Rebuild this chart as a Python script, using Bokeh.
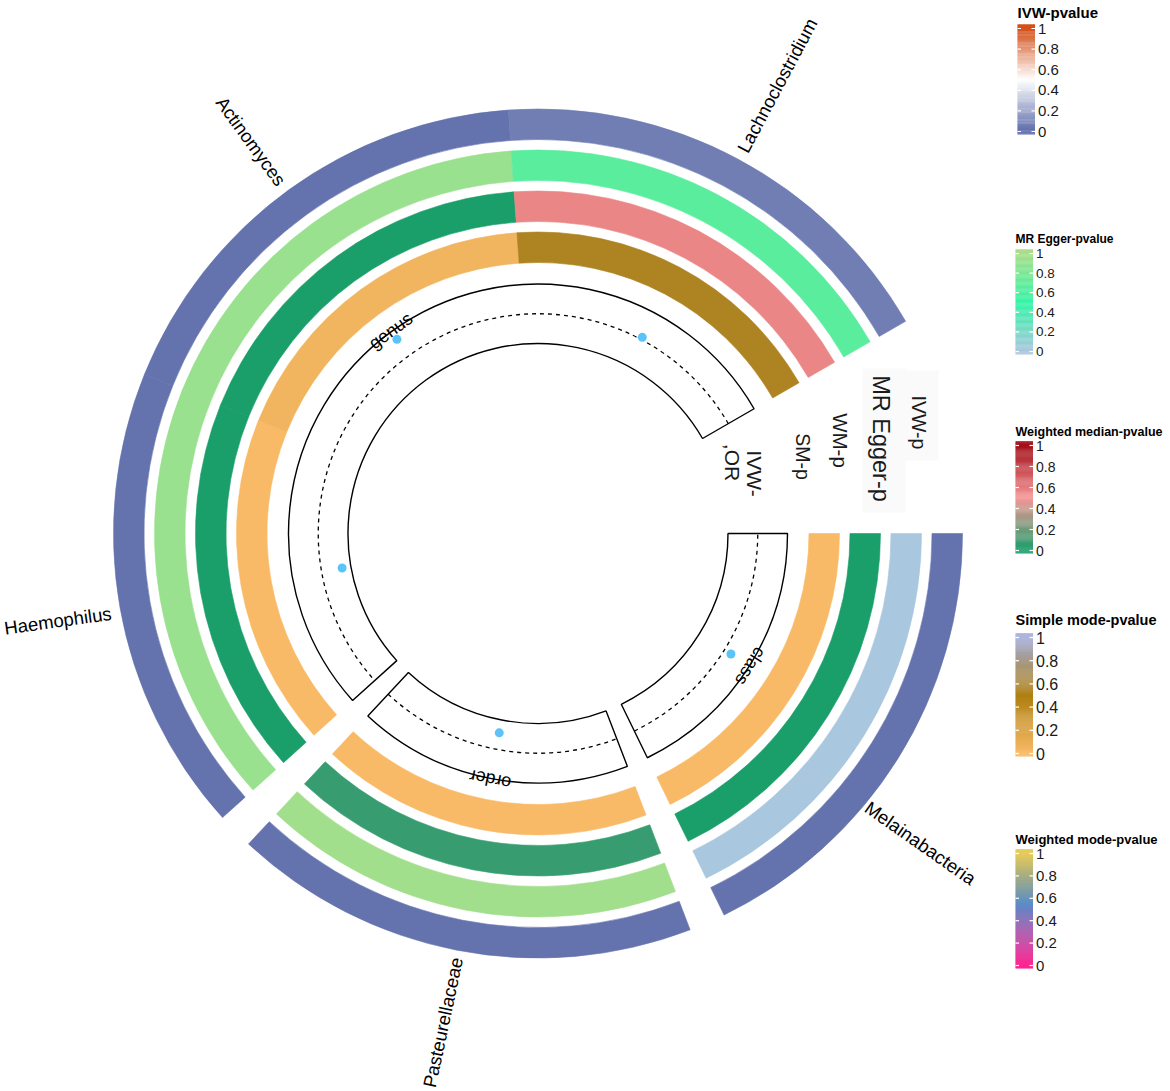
import numpy as np
from bokeh.plotting import figure
from bokeh.models import Range1d, ColumnDataSource, LinearColorMapper
from bokeh.transform import transform
from bokeh.core.properties import value
from bokeh.embed import file_html
from bokeh.resources import INLINE

# ---------------- data ----------------
taxa = ["Melainabacteria", "Pasteurellaceae", "Haemophilus", "Actinomyces", "Lachnoclostridium"]
levels = ["class", "order", "genus", "genus", "genus"]
ivw_p = [0.02, 0.02, 0.02, 0.02, 0.06]
egger_p = [0.01, 0.97, 0.93, 0.93, 0.66]
wm_p = [0.0, 0.07, 0.0, 0.0, 0.56]
sm_p = [0.0, 0.0, 0.0, 0.04, 0.54]
ivw_or = [1.13, 0.72, 0.65, 1.34, 1.04]

legend_titles = ["IVW-pvalue", "MR Egger-pvalue", "Weighted median-pvalue",
                 "Simple mode-pvalue", "Weighted mode-pvalue"]
tick_values = [0, 0.2, 0.4, 0.6, 0.8, 1]
tick_labels = ["0", "0.2", "0.4", "0.6", "0.8", "1"]

# colour scales (stops)
ivw_stops = [(0, "#5E6DAA"), (0.5, "#FFFFFF"), (1, "#D4501A")]
egger_stops = [(0, "#ABC6DF"), (0.5, "#34F4A6"), (1, "#A8DE8A")]
wm_stops = [(0, "#1A9E6A"), (0.5, "#F59696"), (1, "#A3101A")]
sm_stops = [(0, "#F8BA66"), (0.5, "#AF7F10"), (1, "#A3ACD9")]
wmode_stops = [(0, "#FF0A84"), (0.55, "#5B8DC8"), (1, "#E2C74C")]


def hex2rgb(h):
    h = h.lstrip("#")
    return np.array([int(h[i:i + 2], 16) for i in (0, 2, 4)], dtype=float)


def make_palette(stops, n=256):
    xs = np.array([s[0] for s in stops])
    cols = np.array([hex2rgb(s[1]) for s in stops])
    out = []
    for t in np.linspace(0, 1, n):
        rgb = [np.interp(t, xs, cols[:, k]) for k in range(3)]
        out.append("#%02x%02x%02x" % tuple(int(round(c)) for c in rgb))
    return out


mappers = [LinearColorMapper(palette=make_palette(s), low=0, high=1)
           for s in (ivw_stops, egger_stops, wm_stops, sm_stops, wmode_stops)]

# ---------------- layout ----------------
W, H = 1166, 1088


def Y(py):
    return H - py


CX, CY = 537.5, Y(533)
SECTOR_W = 64.0
SMALL_GAP = 5.0
START = 0.0

sec_hi, sec_lo = [], []
pos = START
prev = None
for lev in levels:
    if prev is not None and lev != prev:
        pos -= SMALL_GAP
    sec_hi.append(pos)
    sec_lo.append(pos - SECTOR_W)
    pos -= SECTOR_W
    prev = lev
sec_mid = [(a + b) / 2 for a, b in zip(sec_hi, sec_lo)]

p = figure(width=W, height=H, x_range=Range1d(0, W), y_range=Range1d(0, H),
           output_backend="svg", toolbar_location=None, min_border=0,
           x_axis_location=None, y_axis_location=None)
p.grid.visible = False
p.outline_line_color = None
p.background_fill_color = "white"
p.border_fill_color = "white"

FONT = "Liberation Sans"

# heat rings (outer to inner)
ring_values = [ivw_p, egger_p, wm_p, sm_p]
ring_inner = [394, 353, 312, 271]
RING_W = 30.5
for vals, mapper, rin in zip(ring_values, mappers[:4], ring_inner):
    src = ColumnDataSource(dict(
        x=[CX] * len(taxa), y=[CY] * len(taxa),
        s=np.radians(sec_lo), e=np.radians(sec_hi), v=vals))
    p.annular_wedge(x="x", y="y", inner_radius=rin, outer_radius=rin + RING_W,
                    start_angle="s", end_angle="e", source=src,
                    fill_color=transform("v", mapper),
                    line_color=transform("v", mapper), line_width=0.6)

# gap label backgrounds (faint)
p.quad(left=[903, 862], right=[938, 905], top=[Y(370), Y(368)], bottom=[Y(460), Y(512)],
       fill_color="#FAFAFA", line_color=None)

# track labels in the gap
gap_texts = ["IVW-p", "MR Egger-p", "WM-p", "SM-p", "IVW-", ",OR"]
gap_x = [918, 880, 840, 802, 754, 732]
gap_y = [422, 438, 440, 456, 473, 462]
gap_size = [19.5, 23.5, 20.5, 19.5, 21, 21]
for t, gx, gy, gs in zip(gap_texts, gap_x, gap_y, gap_size):
    p.text(x=[gx], y=[Y(gy)], text=[t], angle=-np.pi / 2, text_align="center",
           text_baseline="middle", text_font=value(FONT), text_font_size=f"{gs}px",
           text_color="#1a1a1a")

# IVW-OR track
OR_IN, OR_OUT = 190.0, 249.5
OR_LIM = (0.5, 1.5)
uniq_levels = []
for lev in levels:
    if lev not in uniq_levels:
        uniq_levels.append(lev)
lev_lo = [min(sec_lo[i] for i in range(len(levels)) if levels[i] == L) for L in uniq_levels]
lev_hi = [max(sec_hi[i] for i in range(len(levels)) if levels[i] == L) for L in uniq_levels]
lev_mid = [(a + b) / 2 for a, b in zip(lev_lo, lev_hi)]

p.annular_wedge(x=[CX] * len(uniq_levels), y=[CY] * len(uniq_levels),
                inner_radius=OR_IN, outer_radius=OR_OUT,
                start_angle=np.radians(lev_lo), end_angle=np.radians(lev_hi),
                fill_color=None, line_color="black", line_width=1.4)


def or_r(v):
    return OR_IN + (v - OR_LIM[0]) / (OR_LIM[1] - OR_LIM[0]) * (OR_OUT - OR_IN)


p.arc(x=[CX] * len(uniq_levels), y=[CY] * len(uniq_levels), radius=or_r(1.0),
      start_angle=np.radians(lev_lo), end_angle=np.radians(lev_hi),
      line_color="black", line_width=1.3, line_dash="4 4")

pr = np.array([or_r(v) for v in ivw_or])
th = np.radians(sec_mid)
p.scatter(x=CX + pr * np.cos(th), y=CY + pr * np.sin(th), size=9,
          fill_color="#5BC3F7", line_color=None)

# level labels
lth = np.radians(lev_mid)
LR = 250.5
p.text(x=CX + LR * np.cos(lth), y=CY + LR * np.sin(lth), text=uniq_levels,
       angle=lth - np.pi / 2, text_align="center", text_baseline="alphabetic",
       text_font=value(FONT), text_font_size="18px", text_color="black")

# taxon labels
lab_theta = np.radians([321.0, 259.0, 190.3, 126.2, 61.9])
lab_r = np.array([492.0, 498.0, 488.0, 486.0, 508.0])
lab_rot = np.radians([-35.0, 78.0, 8.0, -54.0, 62.0])
p.text(x=CX + lab_r * np.cos(lab_theta), y=CY + lab_r * np.sin(lab_theta), text=taxa,
       angle=lab_rot, text_align="center", text_baseline="middle",
       text_font=value(FONT), text_font_size="18.5px", text_color="black")

# ---------------- legends ----------------
leg_x = [1017, 1015, 1015, 1015, 1015]
leg_title_y = [11.5, 238.5, 431, 619, 838.5]   # title centre lines
leg_title_size = [15, 12, 12.5, 14.5, 13]
leg_t1 = [28, 253, 445, 637, 853]
leg_t0 = [131, 351, 550, 753, 965]
leg_lab_size = [15, 13.5, 14, 16, 15]
BAR_W = 17.5
for i in range(5):
    x0 = leg_x[i]
    x1 = x0 + BAR_W
    t1, t0 = Y(leg_t1[i]), Y(leg_t0[i])
    p.text(x=[x0], y=[Y(leg_title_y[i])], text=[legend_titles[i]], text_align="left",
           text_baseline="middle", text_font=value(FONT), text_font_style="bold",
           text_font_size=f"{leg_title_size[i]}px", text_color="black")
    n = 120
    top_ext, bot_ext = 4.0, 3.0
    ytop, ybot = t1 + top_ext, t0 - bot_ext
    edges = np.linspace(ybot, ytop, n + 1)
    vals = (0.5 * (edges[:-1] + edges[1:]) - t0) / (t1 - t0)
    src = ColumnDataSource(dict(b=edges[:-1], t=edges[1:] + 0.3, v=vals))
    p.quad(left=x0, right=x1, bottom="b", top="t", source=src,
           fill_color=transform("v", mappers[i]), line_color=None)
    ty = np.array([t0 + tv * (t1 - t0) for tv in tick_values])
    p.segment(x0=[x0] * 6, x1=[x0 + 3.5] * 6, y0=ty, y1=ty, line_color="white", line_width=1.2)
    p.segment(x0=[x1 - 3.5] * 6, x1=[x1] * 6, y0=ty, y1=ty, line_color="white", line_width=1.2)
    p.text(x=[x1 + 3] * 6, y=ty, text=tick_labels, text_align="left", text_baseline="middle",
           text_font=value(FONT), text_font_size=f"{leg_lab_size[i]}px", text_color="#1a1a1a")

open("out.html", "w").write(file_html(p, INLINE))
